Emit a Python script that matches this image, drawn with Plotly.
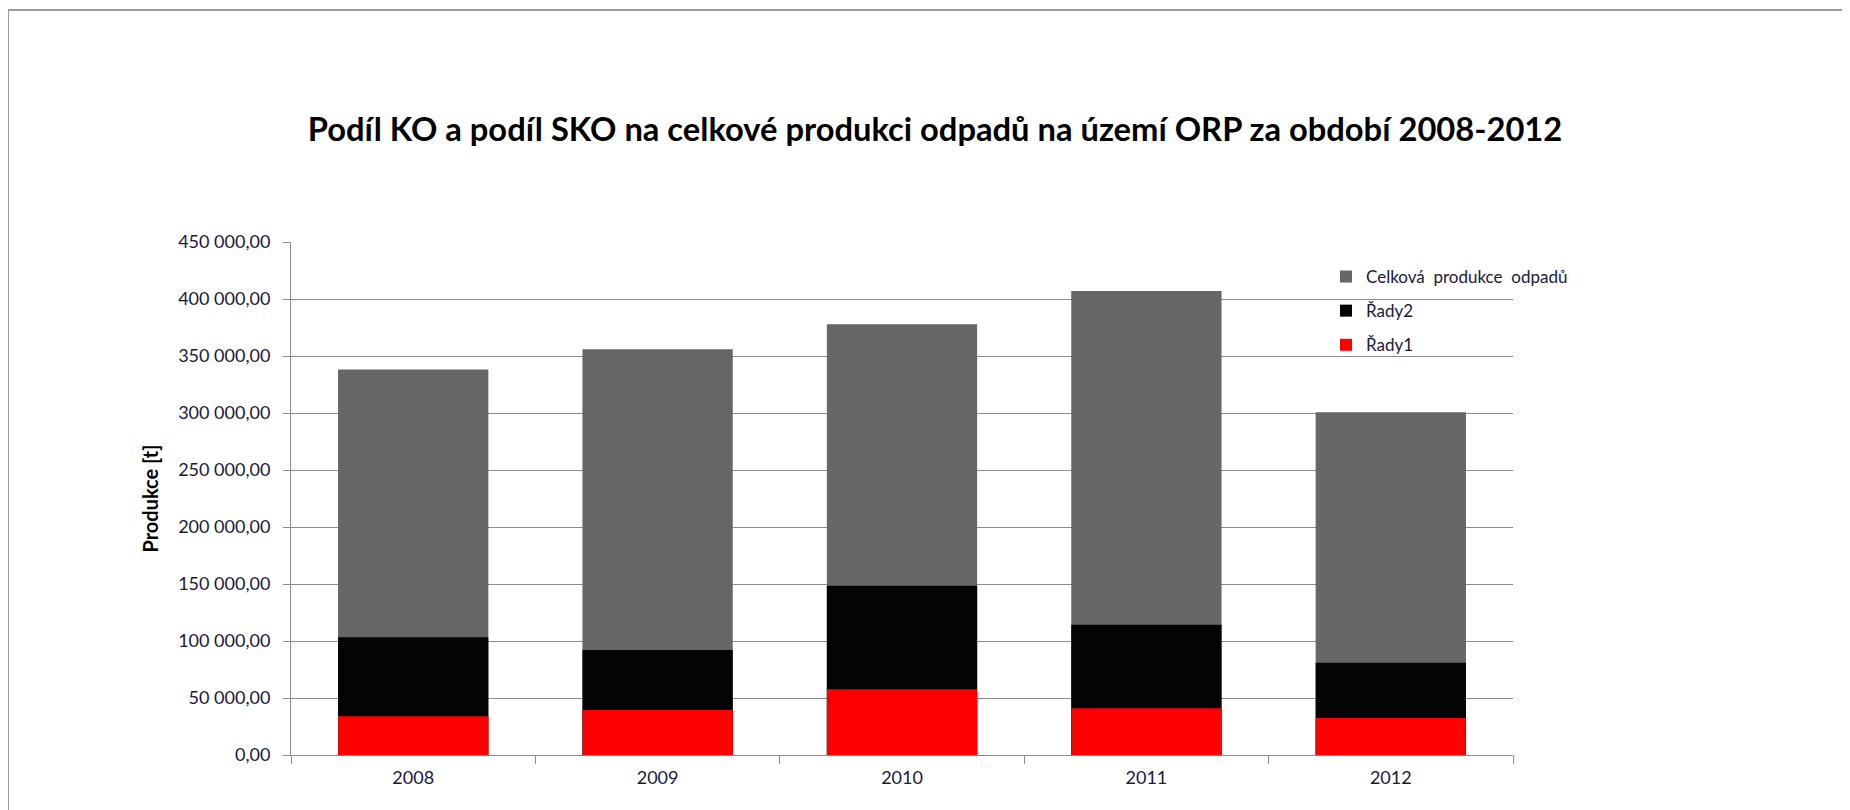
import plotly.graph_objects as go

years = ["2008", "2009", "2010", "2011", "2012"]
celkova = [338200, 355900, 377900, 407100, 300600]
rady2 = [103200, 92200, 148500, 114200, 81000]
rady1 = [34000, 39500, 57600, 41000, 32500]

names = ["Celková  produkce  odpadů", "Řady2", "Řady1"]
colors = ["#666666", "#040404", "#ff0000"]

# the page body has an 8px margin, so the figure is 8px smaller than the window
W, H = 1842, 802
L, R, T, B = 283, 1505, 234, 747
pw, ph = R - L, B - T

def px_x(x):
    return (x - L) / pw

def px_y(y):
    return (B - y) / ph

FONT = "Lato"

fig = go.Figure()
for i, (vals, nm, col) in enumerate(zip([celkova, rady2, rady1], names, colors)):
    fig.add_trace(go.Bar(
        x=years, y=vals, name=nm, marker_color=col,
        marker_line_width=0, legendgroup=f"g{i}",
    ))

fig.update_layout(
    width=W, height=H,
    barmode="overlay",
    bargap=0.385,
    separators=", ",
    plot_bgcolor="white", paper_bgcolor="white",
    margin=dict(l=L, r=W - R, t=T, b=H - B, pad=0),
    title=dict(
        text="<b>Podíl KO a podíl SKO na celkové produkci odpadů na území ORP za období 2008-2012</b>",
        x=927 / W, xanchor="center", y=1 - 122 / H, yanchor="middle",
        font=dict(family=FONT, size=32.7, color="#000000"),
    ),
    showlegend=True,
    legend=dict(
        x=px_x(1318), xanchor="left", y=px_y(251), yanchor="top",
        bgcolor="rgba(0,0,0,0)", traceorder="grouped", tracegroupgap=9,
        font=dict(family=FONT, size=17, color="#1a1a3a"),
        itemwidth=30,
    ),
    xaxis=dict(
        type="category",
        showline=True, linecolor="#8c8c8c", linewidth=1,
        ticks="outside", tickson="boundaries", ticklen=8, tickcolor="#8c8c8c",
        ticklabelstandoff=6,
        tickfont=dict(family=FONT, size=18, color="#1a1a3a"),
        showgrid=False,
    ),
    yaxis=dict(
        range=[0, 450000], tickmode="linear", tick0=0, dtick=50000,
        tickformat=",.2f",
        showline=True, linecolor="#8c8c8c", linewidth=1,
        ticks="outside", ticklen=7, tickcolor="#8c8c8c",
        ticklabelstandoff=9,
        showgrid=True, gridcolor="#8c8c8c", gridwidth=1,
        zeroline=False,
        tickfont=dict(family=FONT, size=18, color="#1a1a3a"),
        title=dict(text="<b>Produkce [t]</b>", standoff=14,
                   font=dict(family=FONT, size=20, color="#000000")),
    ),
    shapes=[dict(
        type="rect", xref="paper", yref="paper",
        x0=px_x(0), x1=px_x(1880), y0=px_y(830), y1=px_y(2),
        line=dict(color="#9a9a9a", width=2), fillcolor="rgba(0,0,0,0)",
        layer="below",
    )],
)

fig.write_html("out.html")
